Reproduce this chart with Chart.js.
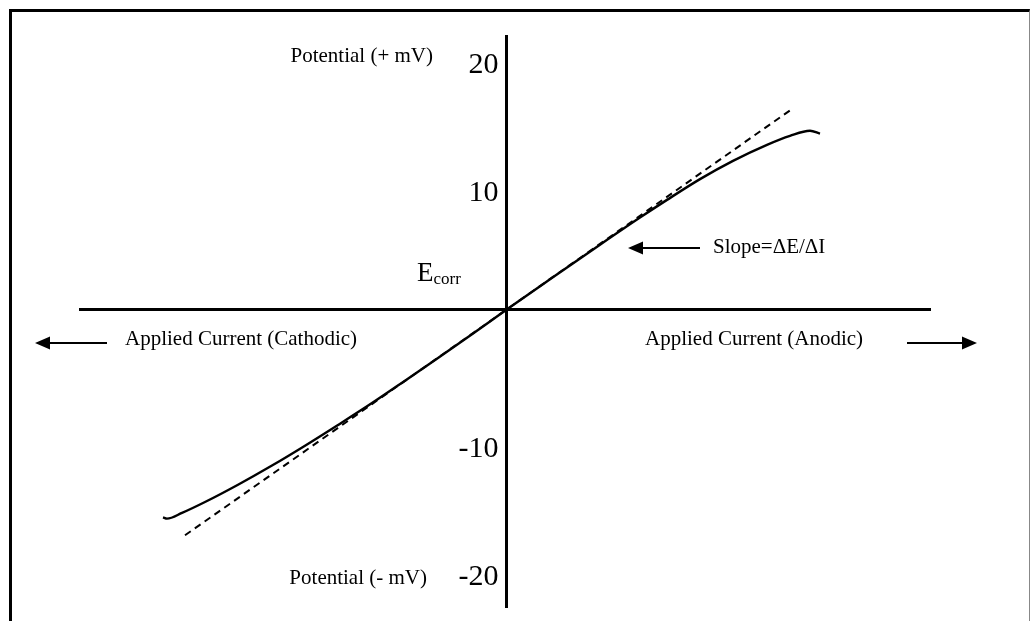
<!DOCTYPE html>
<html>
<head>
<meta charset="utf-8">
<title>Linear polarization</title>
<script src="https://cdn.jsdelivr.net/npm/chart.js@4.4.1/dist/chart.umd.min.js"></script>
<style>
  html, body { margin: 0; padding: 0; background: #fff; }
  #wrap { position: relative; width: 1031px; height: 621px; overflow: hidden; }
  #frame {
    position: absolute; left: 9px; top: 9px; width: 1017px; height: 700px;
    border-top: 3px solid #000; border-left: 3px solid #000; border-right: 1px solid #888;
  }
  #chart { position: absolute; left: 0; top: 0; }
</style>
</head>
<body>
<div id="wrap">
  <div id="frame"></div>
  <canvas id="chart" width="1031" height="621"></canvas>
</div>
<script>
// measured curve: applied current vs potential shift from Ecorr (mV)
const current = [-34.3, -33.9, -32.4, -30.1, -26.8, -23.4, -20.1, -16.8, -13.4, -10.1, -6.8, -3.4, 0,
  4.4, 9.4, 13.4, 16.1, 19.4, 22.7, 26.1, 28.4, 30.4, 31.4];
const potential = [-16.2, -16.3, -15.85, -15.0, -13.65, -12.15, -10.6, -8.98, -7.27, -5.52, -3.75, -1.9, 0,
  2.4, 5.1, 7.22, 8.6, 10.22, 11.65, 12.9, 13.6, 14.0, 13.78];

// straight line through Ecorr (slope = dE/dI)
const fitCurrent = [-32.1, 0, 28.6];
const fitPotential = [-17.6, 0, 15.7];

const yTicks = [-20, -10, 10, 20];

const serif = '"Liberation Serif", "Times New Roman", serif';

const notes = [
  { text: 'Potential (+ mV)', x: -7.3, y: 19.8, align: 'right', size: 21 },
  { text: 'Potential (- mV)', x: -7.9, y: -20.94, align: 'right', size: 21 },
  { text: 'Applied Current (Cathodic)', x: -38.1, y: -2.34, align: 'left', size: 21 },
  { text: 'Applied Current (Anodic)', x: 13.9, y: -2.34, align: 'left', size: 21 },
  { text: 'Slope=\u0394E/\u0394I', x: 20.7, y: 4.9, align: 'left', size: 21 }
];

const arrows = [
  { from: [-39.9, -2.58], to: [-47.1, -2.58] },
  { from: [40.1, -2.58], to: [47.1, -2.58] },
  { from: [19.4, 4.84], to: [12.2, 4.84] }
];

const annotate = {
  id: 'annotate',
  afterDraw(chart) {
    const { ctx, scales: { x, y } } = chart;
    ctx.save();
    ctx.fillStyle = '#000';
    ctx.strokeStyle = '#000';
    ctx.textBaseline = 'middle';
    notes.forEach(n => {
      ctx.font = n.size + 'px ' + serif;
      ctx.textAlign = n.align;
      ctx.fillText(n.text, x.getPixelForValue(n.x), y.getPixelForValue(n.y));
    });

    // E with "corr" subscript
    ctx.textAlign = 'left';
    ctx.textBaseline = 'alphabetic';
    const ex = x.getPixelForValue(-8.9);
    const ey = y.getPixelForValue(2.27);
    ctx.font = '27px ' + serif;
    ctx.fillText('E', ex, ey);
    const ew = ctx.measureText('E').width;
    ctx.font = '17px ' + serif;
    ctx.fillText('corr', ex + ew, ey + 3);

    arrows.forEach(a => {
      const x1 = x.getPixelForValue(a.from[0]), y1 = y.getPixelForValue(a.from[1]);
      const x2 = x.getPixelForValue(a.to[0]), y2 = y.getPixelForValue(a.to[1]);
      const dir = Math.sign(x2 - x1);
      ctx.lineWidth = 2;
      ctx.beginPath();
      ctx.moveTo(x1, y1);
      ctx.lineTo(x2 - dir * 12, y2);
      ctx.stroke();
      ctx.beginPath();
      ctx.moveTo(x2, y2);
      ctx.lineTo(x2 - dir * 15, y2 - 6.5);
      ctx.lineTo(x2 - dir * 15, y2 + 6.5);
      ctx.closePath();
      ctx.fill();
    });
    ctx.restore();
  }
};

new Chart(document.getElementById('chart'), {
  type: 'line',
  data: {
    datasets: [
      {
        label: 'Polarization curve',
        data: current.map((c, i) => ({ x: c, y: potential[i] })),
        borderColor: '#000',
        borderWidth: 2.4,
        pointRadius: 0,
        cubicInterpolationMode: 'monotone',
        fill: false
      },
      {
        label: 'Linear fit',
        data: fitCurrent.map((c, i) => ({ x: c, y: fitPotential[i] })),
        borderColor: '#000',
        borderWidth: 2,
        borderDash: [7, 5],
        pointRadius: 0,
        fill: false
      }
    ]
  },
  options: {
    responsive: false,
    animation: false,
    layout: { padding: { left: 80, right: 101, top: 36, bottom: 14 } },
    plugins: {
      legend: { display: false },
      tooltip: { enabled: false }
    },
    scales: {
      x: {
        type: 'linear',
        min: -42.6,
        max: 42.4,
        position: { y: 0 },
        grid: { display: false, drawTicks: false },
        border: { display: true, width: 3, color: '#000' },
        ticks: { display: false }
      },
      y: {
        type: 'linear',
        min: -23.2,
        max: 21.4,
        position: { x: 0 },
        grid: { display: false, drawTicks: false },
        border: { display: true, width: 3, color: '#000' },
        afterBuildTicks: axis => { axis.ticks = yTicks.map(v => ({ value: v })); },
        ticks: {
          color: '#000',
          font: { family: serif, size: 30, lineHeight: 0.8 },
          padding: 0,
          labelOffset: 11,
          // trailing space keeps the labels clear of the axis line
          callback: v => v + ' '
        }
      }
    }
  },
  plugins: [annotate]
});
</script>
</body>
</html>
